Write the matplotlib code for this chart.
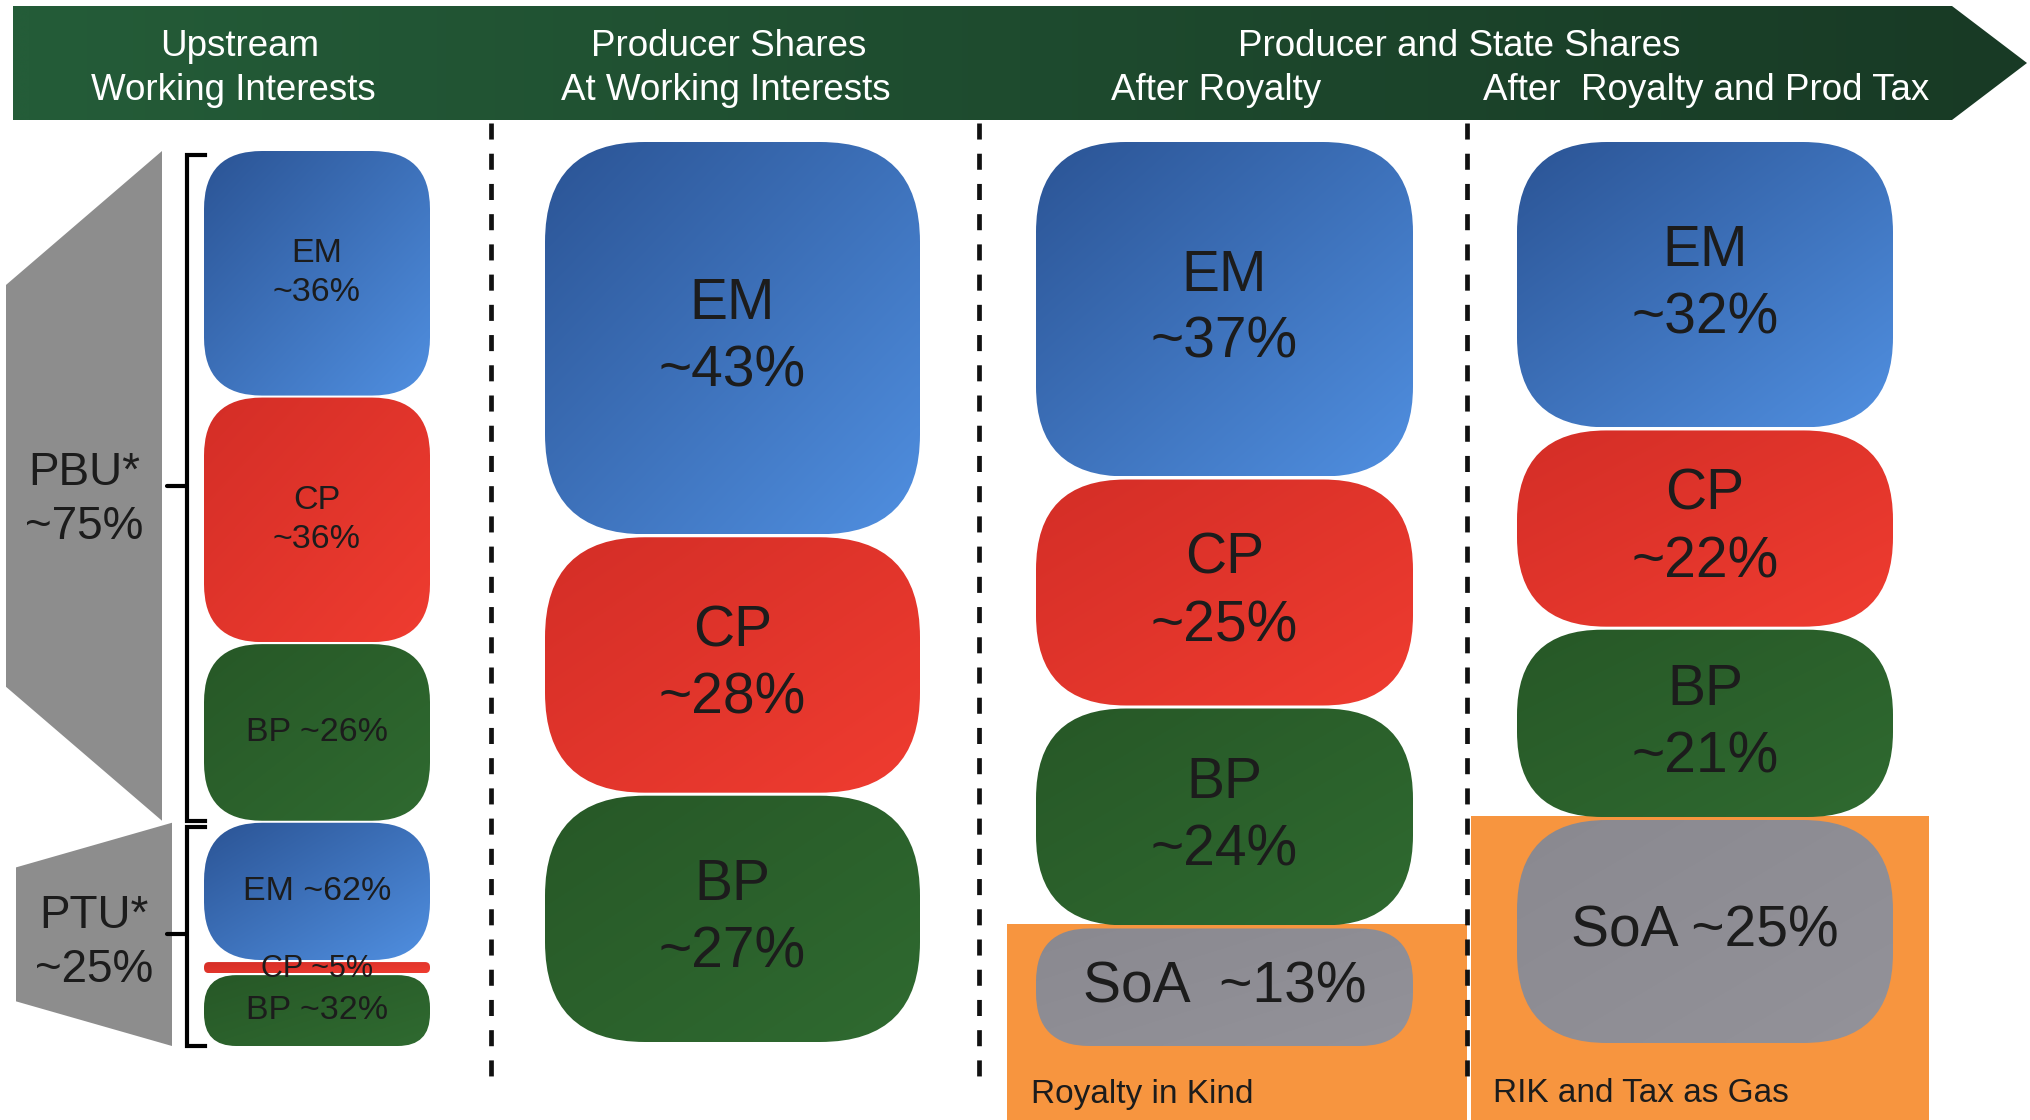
import numpy as np
import matplotlib
matplotlib.use('Agg')
import matplotlib.pyplot as plt
from matplotlib.colors import to_rgb
from matplotlib.patches import FancyBboxPatch, Polygon

# ---- chart data ----
companies = ['EM', 'CP', 'BP']
unit_names = ['PBU*', 'PTU*']
unit_shares = [75, 25]
pbu_shares = [36, 36, 26]
ptu_shares = [62, 5, 32]
wi_shares = [43, 28, 27]
royalty_shares = [37, 25, 24]
royalty_state = 13
tax_shares = [32, 22, 21]
tax_state = 25

header_top = ['Upstream', 'Producer Shares', 'Producer and State Shares']
header_bottom = ['Working Interests', 'At Working Interests',
                 'After Royalty', 'After  Royalty and Prod Tax']
state_notes = ['Royalty in Kind', 'RIK and Tax as Gas']

# ---- styles ----
company_colors = {
    'EM': ('#2b5495', '#508fe0'),
    'CP': ('#d42e27', '#ef3c30'),
    'BP': ('#275827', '#2f6a30'),
    'SoA': ('#8a8990', '#939299'),
}
ORANGE = '#f7953f'
TEXT = '#1c1c1c'

plt.rcParams['font.family'] = ['Liberation Sans', 'DejaVu Sans']


def gradient_fill(ax, patch, extent, c1, c2, horizontal=False, n=64):
    """Fill a patch with a linear gradient (diagonal unless horizontal)."""
    a = np.array(to_rgb(c1))
    b = np.array(to_rgb(c2))
    u = np.linspace(0, 1, n)
    if horizontal:
        t = np.tile(u[None, :], (n, 1))
    else:
        t = (u[:, None] + u[None, :]) / 2
    img = a + (b - a) * t[..., None]
    im = ax.imshow(img, extent=extent, interpolation='bilinear',
                   aspect='auto', zorder=patch.get_zorder())
    im.set_clip_path(patch)


def rounded_box(ax, x, y, w, h, r, name, zorder=2):
    r = min(r, h / 2.2)
    patch = FancyBboxPatch((x, y), w, h,
                           boxstyle=f'round,pad=0,rounding_size={r}',
                           facecolor='none', edgecolor='none', zorder=zorder)
    ax.add_patch(patch)
    c1, c2 = company_colors[name]
    gradient_fill(ax, patch, (x, x + w, y + h, y), c1, c2)


def stack(top, bottom, values, gap):
    """Split [top, bottom] into pieces proportional to values."""
    scale = (bottom - top - gap * (len(values) - 1)) / sum(values)
    out = []
    y = top
    for v in values:
        h = v * scale
        out.append((y, h))
        y += h + gap
    return out


fig = plt.figure(figsize=(20.3, 11.2), dpi=100)
ax = fig.add_axes([0, 0, 1, 1])
ax.axis('off')

# ---- header arrow ----
banner = Polygon([(13, 6), (1952, 6), (2027, 63), (1952, 120), (13, 120)],
                 closed=True, facecolor='none', edgecolor='none', zorder=1)
ax.add_patch(banner)
gradient_fill(ax, banner, (13, 2027, 120, 6), '#245c38', '#183a25',
              horizontal=True)
for x, s in zip([240, 729, 1459], header_top):
    ax.text(x, 47, s, color='white', fontsize=26.5, ha='center', va='center',
            zorder=3)
for x, s in zip([233, 726, 1216, 1706], header_bottom):
    ax.text(x, 91, s, color='white', fontsize=26.5, ha='center', va='center',
            zorder=3)

# ---- left column: upstream working interests ----
left_x, left_w = 204, 226
bracket_x = 187
units = stack(151, 1046, unit_shares, 2)
unit_boxes = [pbu_shares, ptu_shares]
gray_left = [6, 16]
gray_right = [162, 172]
label_shift = [14, 9]
for i, ((uy, uh), shares) in enumerate(zip(units, unit_boxes)):
    # grey trapezoid
    inset = 0.2 * uh
    trap = Polygon([(gray_left[i], uy + inset), (gray_right[i], uy),
                    (gray_right[i], uy + uh), (gray_left[i], uy + uh - inset)],
                   closed=True, facecolor='#8d8d8d', edgecolor='none', zorder=1)
    ax.add_patch(trap)
    ax.text((gray_left[i] + gray_right[i]) / 2, uy + uh / 2 + label_shift[i],
            f'{unit_names[i]}\n~{unit_shares[i]}%', fontsize=33, color=TEXT,
            ha='center', va='center', linespacing=1.3, zorder=3)
    # bracket
    mid = uy + uh / 2
    ax.plot([left_x + 1, bracket_x, bracket_x, left_x + 1],
            [uy + 4, uy + 4, uy + uh, uy + uh],
            color='k', lw=3.0, solid_joinstyle='miter', zorder=3)
    ax.plot([bracket_x, 167], [mid, mid], color='k', lw=3.0,
            solid_capstyle='round', zorder=3)
    # company boxes
    for name, v, (by, bh) in zip(companies, shares, stack(uy, uy + uh, shares, 2)):
        if bh < 20:
            rounded_box(ax, left_x, by, left_w, bh, 5, name)
            ax.text(left_x + left_w / 2, by + bh / 2 + 1, f'{name} ~{v}%',
                    fontsize=22, color=TEXT, ha='center', va='center', zorder=4)
            continue
        rounded_box(ax, left_x, by, left_w, bh, 58, name)
        label = f'{name}\n~{v}%' if bh > 200 else f'{name} ~{v}%'
        ax.text(left_x + left_w / 2, by + bh / 2, label, fontsize=24.5,
                color=TEXT, ha='center', va='center', linespacing=1.35, zorder=4)

# ---- big columns ----
columns = [
    dict(x=545, w=375, top=142, bottom=1042, shares=wi_shares, state=None, r=100),
    dict(x=1036, w=377, top=142, bottom=1046, shares=royalty_shares,
         state=royalty_state, r=90),
    dict(x=1517, w=376, top=142, bottom=1043, shares=tax_shares,
         state=tax_state, r=90),
]
orange_spans = [(1007, 1467), (1471, 1929)]
note_x = [1031, 1493]
for col in columns:
    names = list(companies)
    values = list(col['shares'])
    if col['state'] is not None:
        names.append('SoA')
        values.append(col['state'])
    boxes = stack(col['top'], col['bottom'], values, 3)
    for name, v, (by, bh) in zip(names, values, boxes):
        rounded_box(ax, col['x'], by, col['w'], bh, col['r'], name)
        if name == 'SoA':
            gap = '  ' if v < 20 else ' '
            label = f'SoA{gap}~{v}%'
        else:
            label = f'{name}\n~{v}%'
        ax.text(col['x'] + col['w'] / 2, by + bh / 2, label, fontsize=41,
                color=TEXT, ha='center', va='center', linespacing=1.32, zorder=4)
    if col['state'] is not None:
        k = 0 if col['x'] < 1400 else 1
        sy = boxes[-1][0]
        x0, x1 = orange_spans[k]
        ax.add_patch(plt.Rectangle((x0, sy - 4), x1 - x0, 1130 - sy,
                                   facecolor=ORANGE, edgecolor='none', zorder=1))
        ax.text(note_x[k], 1094, state_notes[k], fontsize=24, color=TEXT,
                ha='left', va='center', zorder=4)

# ---- dashed separators ----
for x in [491, 979, 1467]:
    ax.plot([x, x], [123, 1088], color='#111111', lw=3.4,
            linestyle=(0, (3.4, 3.0)), zorder=5)

ax.set_xlim(0, 2030)
ax.set_ylim(1120, 0)
fig.savefig('out.png', dpi=100, facecolor='white')
